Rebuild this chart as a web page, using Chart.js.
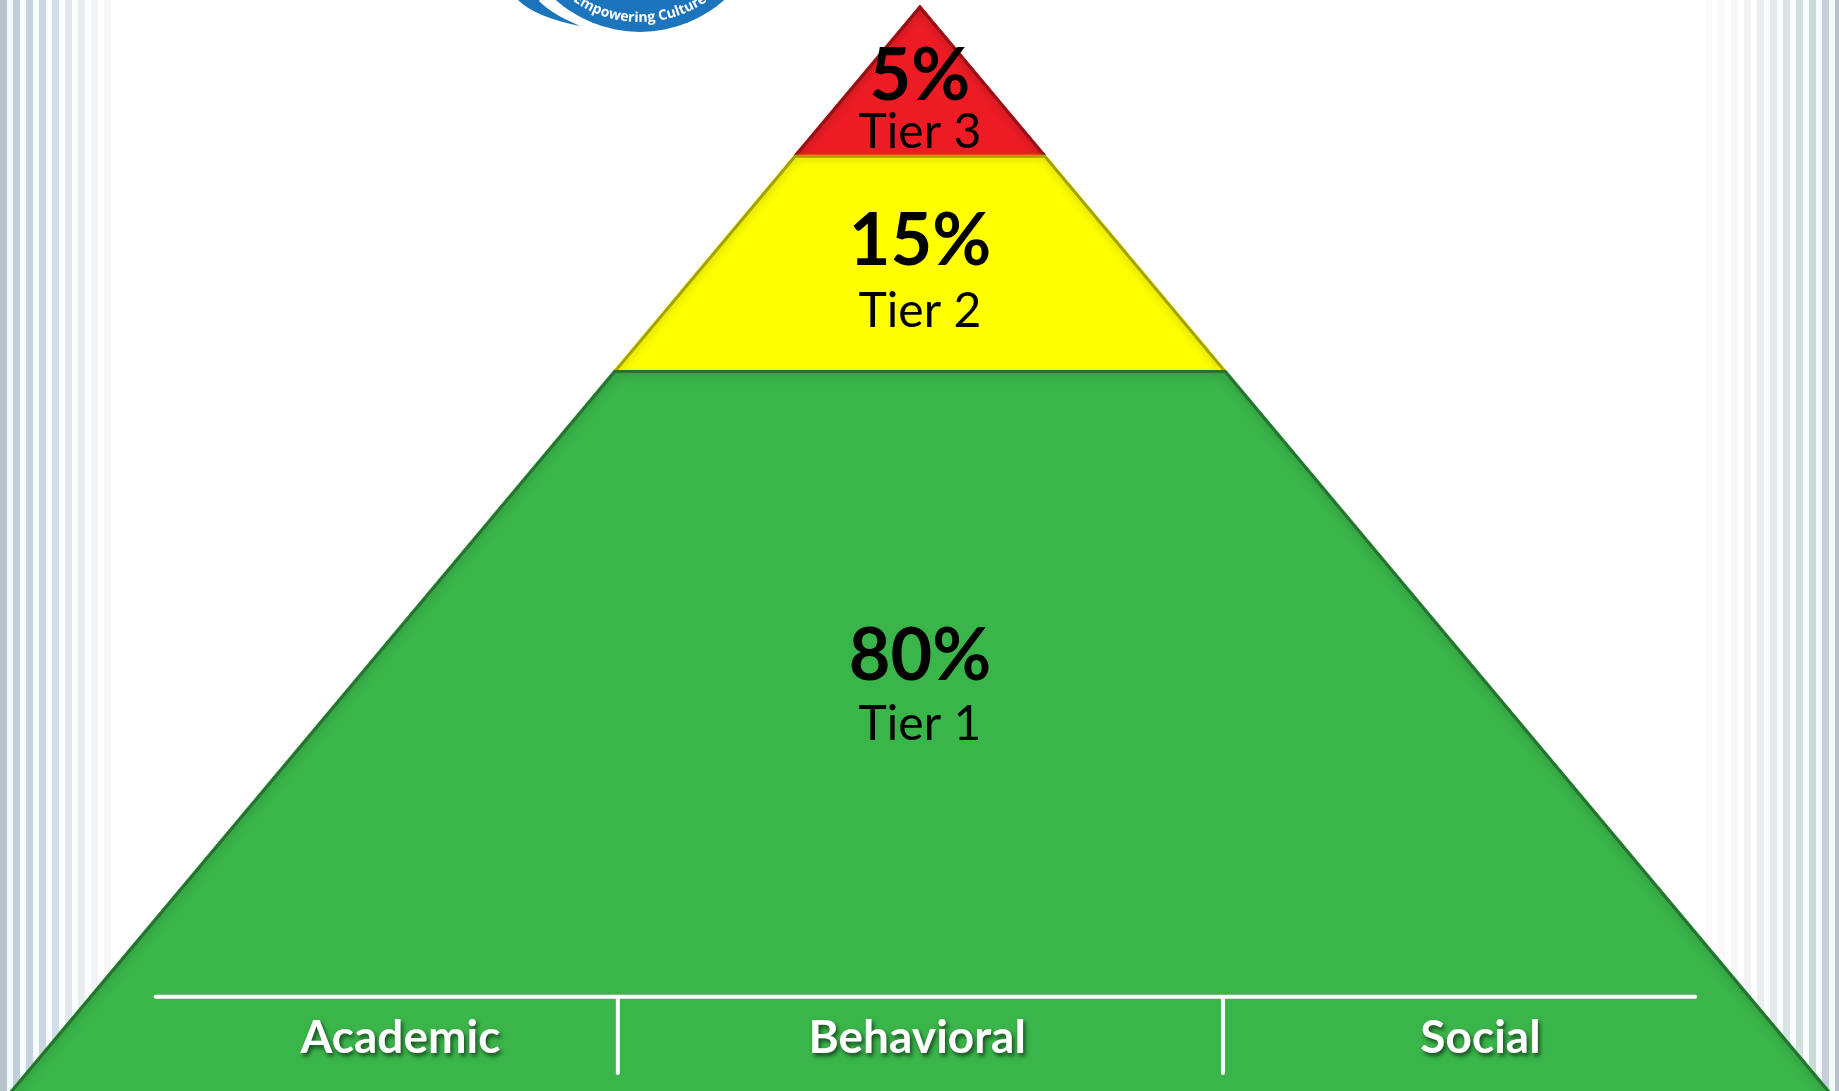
<!DOCTYPE html>
<html>
<head>
<meta charset="utf-8">
<title>Tiers pyramid</title>
<script src="https://cdn.jsdelivr.net/npm/chart.js@4.4.1/dist/chart.umd.min.js"></script>
<style>
  html, body { margin: 0; padding: 0; background: #fff; overflow: hidden; }
  canvas { display: block; }
</style>
</head>
<body>
<canvas id="pyramid" width="1839" height="1091"></canvas>
<script>
// tiers, bottom to top
const tierNames = ['Tier 1', 'Tier 2', 'Tier 3'];
const tierShares = [80, 15, 5];
// band edges in % of pyramid height (0 = bottom of slide, 100 = apex)
const tierEdges = [0, 66.4, 86.2, 100];

const domains = ['Academic', 'Behavioral', 'Social'];
// rail under the pyramid, same units as the x axis (base half width = 100)
const railEdges = [-84, -33.2, 33.3, 85.2];
const railLevel = 8.68;
const railFoot = 1.66;

// where the texts sit (axis units)
const shareBase = [37.85, 76.06, 91.25];
const nameBase = [32.32, 70.35, 86.83];
const domainX = [-57.1, -0.3, 61.6];
const domainBase = 3.5;

const tierColors = ['#3ab54a', '#ffff00', '#ed1c24'];

// half width of the pyramid at a given height
const halfAt = (h) => 100 - h;

function tierPoints(i) {
  const lo = tierEdges[i], hi = tierEdges[i + 1];
  const pts = [{ x: -halfAt(lo), y: lo }, { x: -halfAt(hi), y: hi }];
  if (halfAt(hi) > 0) pts.push({ x: halfAt(hi), y: hi });
  pts.push({ x: halfAt(lo), y: lo });
  return pts;
}

const datasets = [];
tierNames.forEach((name, i) => {
  datasets.push({
    label: name,
    tier: i,
    data: tierPoints(i),
    showLine: true,
    borderColor: tierColors[i],
    borderWidth: 1,
    backgroundColor: tierColors[i],
    fill: i === 0 ? 'origin' : { value: tierEdges[i] },
    pointRadius: 0,
    order: 3 - i
  });
});

// the rail: one long bar and two dividers
datasets.push({
  label: 'rail',
  data: [{ x: railEdges[0], y: railLevel }, { x: railEdges[3], y: railLevel }],
  showLine: true, borderColor: '#ffffff', borderWidth: 4, borderCapStyle: 'round',
  pointRadius: 0, fill: false, order: 0
});
[1, 2].forEach((k) => {
  datasets.push({
    label: 'divider ' + k,
    data: [{ x: railEdges[k], y: railLevel }, { x: railEdges[k], y: railFoot }],
    showLine: true, borderColor: '#ffffff', borderWidth: 4, borderCapStyle: 'round',
    pointRadius: 0, fill: false, order: 0
  });
});

// striped slide borders and the logo tip
const backdrop = {
  id: 'backdrop',
  beforeDraw(chart) {
    const ctx = chart.ctx, w = chart.width, h = chart.height;
    ctx.save();
    ctx.fillStyle = '#ffffff';
    ctx.fillRect(0, 0, w, h);

    let g = ctx.createLinearGradient(0, 0, 110, 0);
    g.addColorStop(0, '#eefaff');
    g.addColorStop(1, 'rgba(255,255,255,0)');
    ctx.fillStyle = g;
    ctx.fillRect(0, 0, 110, h);
    const leftCols = ['#b7c2ca', '#c2cfdb', '#c5d3e0', '#c9d7e3', '#d2dee8', '#dfe6ed', '#eaedf0', '#f2f3f5', '#f8f8f9'];
    leftCols.forEach((c, i) => { ctx.fillStyle = c; ctx.fillRect(i * 13, 0, 7, h); });

    g = ctx.createLinearGradient(w, 0, w - 130, 0);
    g.addColorStop(0, '#f2fafb');
    g.addColorStop(1, 'rgba(255,255,255,0)');
    ctx.fillStyle = g;
    ctx.fillRect(w - 130, 0, 130, h);
    const rightCols = ['#b8c0c9', '#c6cfd9', '#c8dbd7', '#d0e0dc', '#d8e4e4', '#e3e8ec', '#ecedf1', '#f2f2f5', '#f6f6f8', '#f9f9fa', '#fbfbfc'];
    rightCols.forEach((c, i) => { ctx.fillStyle = c; ctx.fillRect(w - 4 - i * 13, 0, 7, h); });

    // logo (only its lower rim shows)
    const cx = 640, cy = -95, r = 127;
    ctx.fillStyle = '#1c75bc';
    ctx.beginPath();
    ctx.arc(cx, cy, r, 0, Math.PI);
    ctx.fill();
    ctx.beginPath();
    ctx.moveTo(518, 0);
    ctx.quadraticCurveTo(535, 17, 580, 26);
    ctx.quadraticCurveTo(552, 12, 542, 0);
    ctx.closePath();
    ctx.fill();
    ctx.strokeStyle = '#ffffff';
    ctx.lineWidth = 3;
    ctx.beginPath();
    ctx.moveTo(540, 0);
    ctx.quadraticCurveTo(556, 16, 588, 27);
    ctx.stroke();

    const text = 'Empowering Culture';
    ctx.font = 'bold 14px "Open Sans"';
    ctx.fillStyle = '#ffffff';
    ctx.textAlign = 'center';
    ctx.textBaseline = 'alphabetic';
    const rr = 117;
    const total = ctx.measureText(text).width;
    let theta = Math.PI / 2 + (total / 2) / rr;
    for (const ch of text) {
      const cw = ctx.measureText(ch).width;
      const a = theta - (cw / 2) / rr;
      ctx.save();
      ctx.translate(cx + rr * Math.cos(a), cy + rr * Math.sin(a));
      ctx.rotate(a - Math.PI / 2);
      ctx.fillText(ch, 0, 0);
      ctx.restore();
      theta -= cw / rr;
    }
    ctx.restore();
  }
};

// soft inner shade along the top and slanted edges of every tier
const bevel = {
  id: 'bevel',
  afterDatasetDraw(chart, args) {
    const ds = chart.data.datasets[args.index];
    if (ds.tier === undefined) return;
    const pts = args.meta.data;
    const ctx = chart.ctx;
    ctx.save();
    ctx.beginPath();
    pts.forEach((p, k) => (k ? ctx.lineTo(p.x, p.y) : ctx.moveTo(p.x, p.y)));
    ctx.closePath();
    ctx.clip();
    ctx.beginPath();
    pts.forEach((p, k) => (k ? ctx.lineTo(p.x, p.y) : ctx.moveTo(p.x, p.y)));
    ctx.shadowColor = 'rgba(0,0,0,0.75)';
    ctx.shadowBlur = 12;
    ctx.strokeStyle = 'rgba(0,0,0,0.3)';
    ctx.lineWidth = 6;
    ctx.stroke();
    ctx.restore();
  }
};

const labels = {
  id: 'labels',
  afterDatasetsDraw(chart) {
    const ctx = chart.ctx, xs = chart.scales.x, ys = chart.scales.y;
    ctx.save();
    ctx.textAlign = 'center';
    ctx.textBaseline = 'alphabetic';
    ctx.fillStyle = '#000000';
    tierShares.forEach((s, i) => {
      const cx = xs.getPixelForValue(0);
      ctx.font = 'bold 72px Lato';
      ctx.fillText(s + '%', cx, ys.getPixelForValue(shareBase[i]));
      ctx.font = '48px Lato';
      ctx.fillText(tierNames[i], cx, ys.getPixelForValue(nameBase[i]));
    });

    ctx.font = 'bold 46px Lato';
    ctx.fillStyle = '#ffffff';
    ctx.shadowColor = 'rgba(0,0,0,0.6)';
    ctx.shadowBlur = 4;
    ctx.shadowOffsetX = 2;
    ctx.shadowOffsetY = 3;
    domains.forEach((d, i) => {
      ctx.fillText(d, xs.getPixelForValue(domainX[i]), ys.getPixelForValue(domainBase));
    });
    ctx.restore();
  }
};

new Chart(document.getElementById('pyramid'), {
  type: 'scatter',
  data: { datasets: datasets },
  options: {
    responsive: false,
    animation: false,
    devicePixelRatio: 1,
    layout: { padding: 0 },
    plugins: {
      legend: { display: false },
      tooltip: { enabled: false }
    },
    elements: { line: { tension: 0 }, point: { radius: 0, hoverRadius: 0 } },
    scales: {
      x: { type: 'linear', display: false, min: -101.1, max: 101 },
      y: { type: 'linear', display: false, min: 0, max: 100.46 }
    }
  },
  plugins: [backdrop, bevel, labels]
});
</script>
</body>
</html>
